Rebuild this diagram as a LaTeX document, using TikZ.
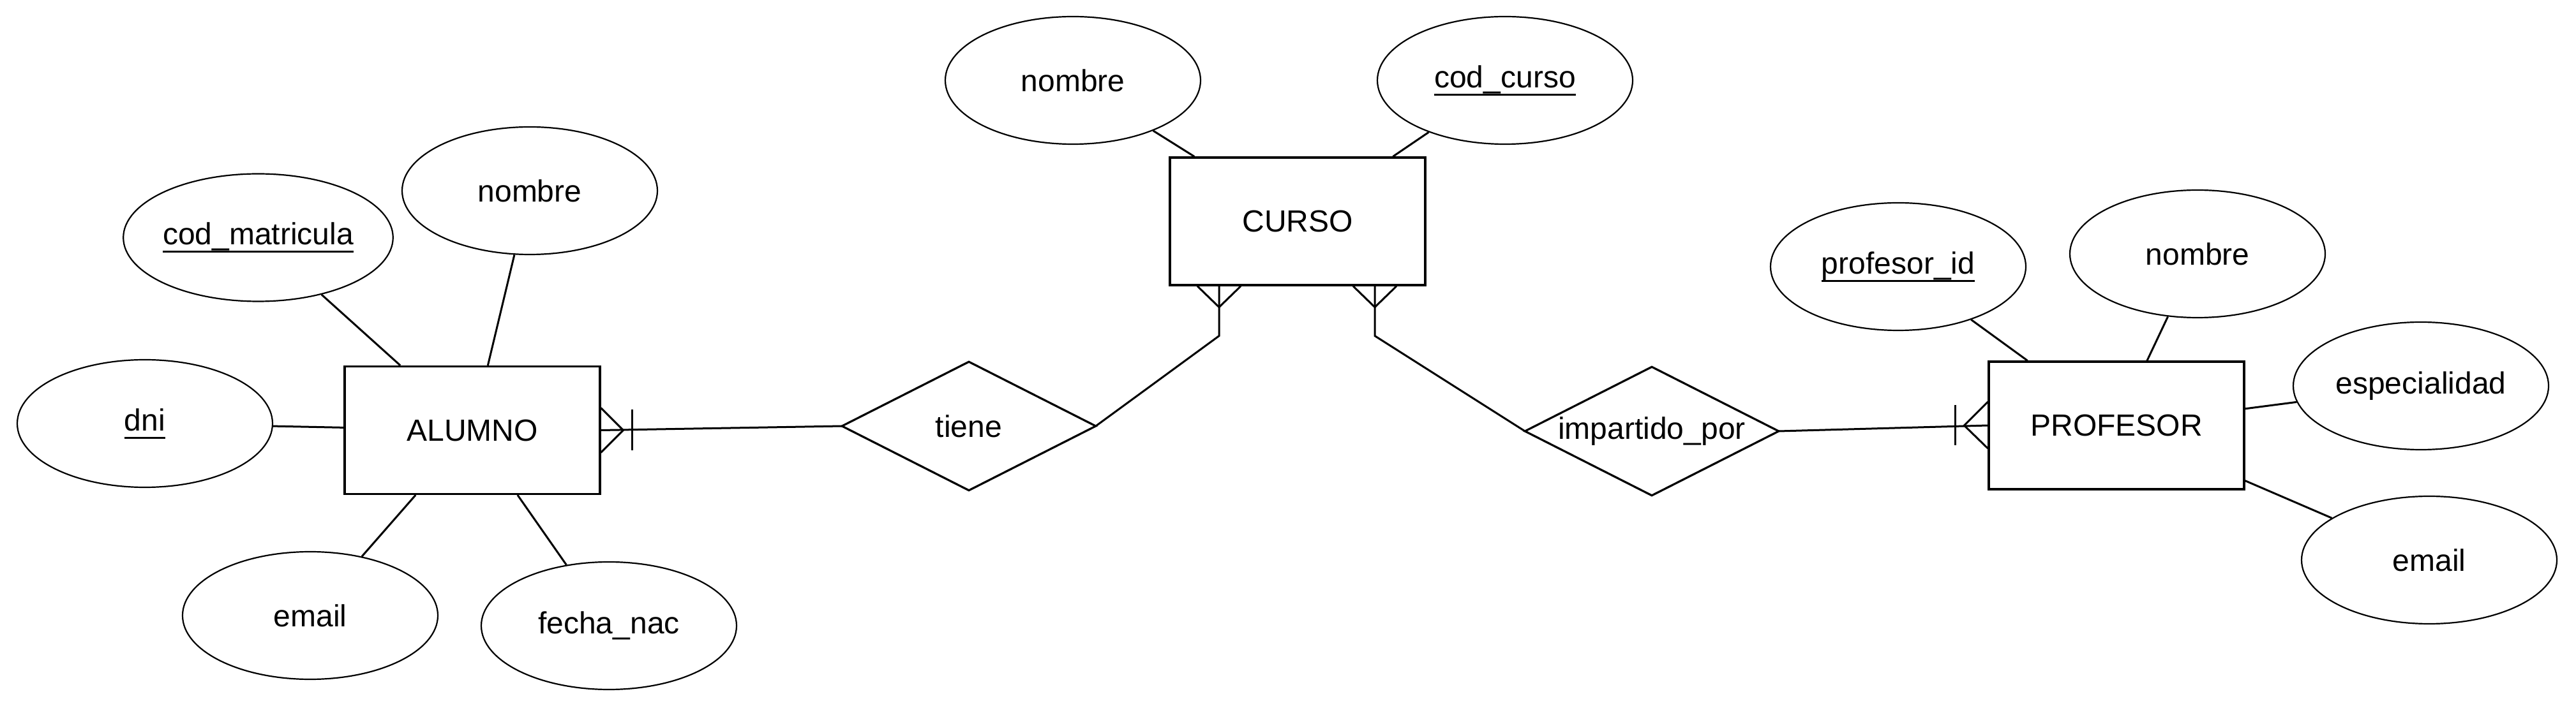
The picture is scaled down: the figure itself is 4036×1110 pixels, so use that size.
\documentclass[tikz,border=0pt]{standalone}
\usepackage{fontspec}
\setmainfont{Liberation Sans}
\usetikzlibrary{shapes.geometric,calc}
\newcommand\keyattr[1]{\setbox0\hbox{#1}\rlap{\copy0}\rule[-3.1pt]{\wd0}{0.75pt}}
\begin{document}
\begin{tikzpicture}[x=0.25pt,y=-0.25pt,
  every node/.style={font=\fontsize{12}{14}\selectfont},
  entity/.style={draw,rectangle,line width=0.8pt,minimum width=100pt,minimum height=50pt,inner sep=0pt},
  attr/.style={draw,ellipse,line width=0.55pt,minimum width=100pt,minimum height=50pt,inner sep=0pt},
  rel/.style={rectangle,minimum width=99pt,minimum height=50pt,inner sep=0pt},
  relline/.style={line width=0.8pt},
  conn/.style={line width=0.75pt},
  foot/.style={line width=0.75pt}]
\useasboundingbox (0,0) rectangle (4036,1110);
% entities
\node[entity] (alumno) at (740,674.5) {ALUMNO};
\node[entity] (curso) at (2033,347) {CURSO};
\node[entity] (profesor) at (3316,667) {PROFESOR};
% relationships
\node[rel] (tiene) at (1518,668) {tiene};
\node[rel] (imp) at (2588,676) {impartido\_por};
\draw[relline] (tiene.west) -- (tiene.north) -- (tiene.east) -- (tiene.south) -- cycle;
\draw[relline] (imp.west) -- (imp.north) -- (imp.east) -- (imp.south) -- cycle;
% attributes ALUMNO
\node[attr] (codm) at (404.5,372.5) {\keyattr{cod\_matricula}};
\node[attr] (anom) at (830,299) {nombre};
\node[attr] (dni) at (227,664) {\keyattr{dni}};
\node[attr] (aem) at (486,965) {email};
\node[attr] (fnac) at (954,981) {fecha\_nac};
% attributes CURSO
\node[attr] (cnom) at (1681,126) {nombre};
\node[attr] (ccod) at (2358,126) {\keyattr{cod\_curso}};
% attributes PROFESOR
\node[attr] (pid) at (2974,418) {\keyattr{profesor\_id}};
\node[attr] (pnom) at (3443,398) {nombre};
\node[attr] (pesp) at (3793,605) {especialidad};
\node[attr] (pem) at (3806,878) {email};
% attribute connectors
\foreach \a in {codm,anom,dni,aem,fnac} \draw[conn] (\a) -- (alumno);
\foreach \a in {cnom,ccod} \draw[conn] (\a) -- (curso);
\foreach \a in {pid,pnom,pesp,pem} \draw[conn] (\a) -- (profesor);
% tiene -- ALUMNO (one or many)
\draw[conn] (tiene.west) -- (alumno.east);
\draw[foot] ($(alumno.east)+(0,-35)$) -- ($(alumno.east)+(35,0)$) -- ($(alumno.east)+(0,35)$);
\draw[foot] ($(alumno.east)+(49,-32)$) -- ($(alumno.east)+(49,32)$);
% tiene -- CURSO (many)
\coordinate (cl) at ($(curso.south)+(-123,0)$);
\coordinate (cr) at ($(curso.south)+(121,0)$);
\draw[conn] (tiene.east) -- ($(cl)+(0,78)$) -- (cl);
\draw[foot] ($(cl)+(-34,0)$) -- ($(cl)+(0,33)$) -- ($(cl)+(34,0)$);
% impartido -- CURSO (many)
\draw[conn] (imp.west) -- ($(cr)+(0,78)$) -- (cr);
\draw[foot] ($(cr)+(-34,0)$) -- ($(cr)+(0,33)$) -- ($(cr)+(34,0)$);
% impartido -- PROFESOR (one or many)
\draw[conn] (imp.east) -- (profesor.west);
\draw[foot] ($(profesor.west)+(0,-37)$) -- ($(profesor.west)+(-37,0)$) -- ($(profesor.west)+(0,36)$);
\draw[foot] ($(profesor.west)+(-51,-32)$) -- ($(profesor.west)+(-51,31)$);
\end{tikzpicture}
\end{document}
